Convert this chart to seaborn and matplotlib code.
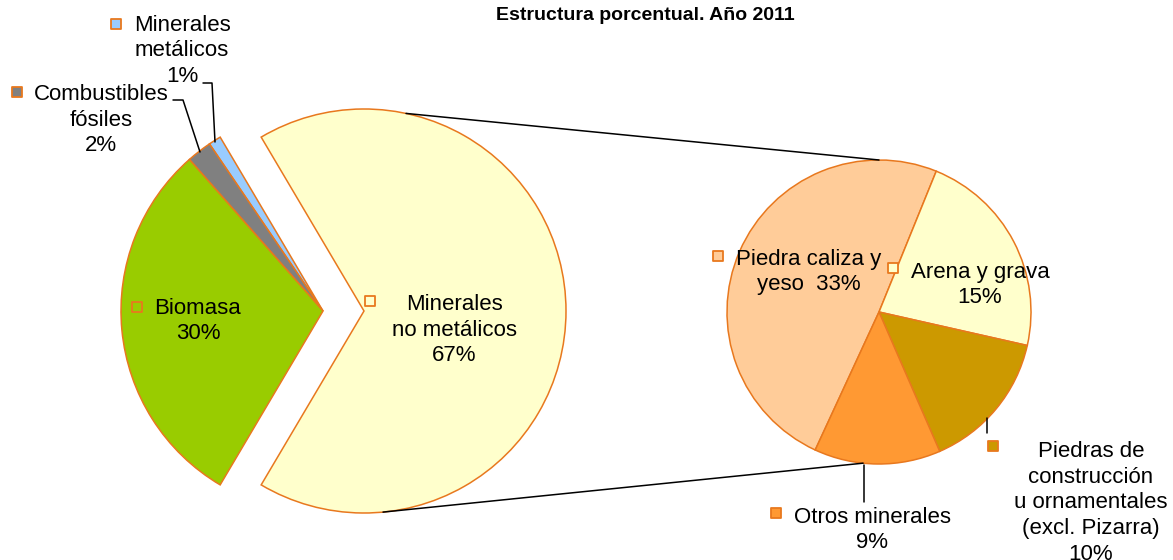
import matplotlib
matplotlib.use("Agg")
import matplotlib.pyplot as plt
import numpy as np
import seaborn as sns

# ---------------------------------------------------------------------------
# Data
# ---------------------------------------------------------------------------
TITLE = "Estructura porcentual. Año 2011"

main_labels = ["Minerales\nno metálicos", "Minerales\nmetálicos",
               "Combustibles\nfósiles", "Biomasa"]
main_values = [67, 1, 2, 30]

sub_labels = ["Piedra caliza y\nyeso ", "Arena y grava",
              "Piedras de\nconstrucción\nu ornamentales\n(excl. Pizarra)",
              "Otros minerales"]
sub_values = [33, 15, 10, 9]

# ---------------------------------------------------------------------------
# Style / layout (canvas coordinates = pixels, y up)
# ---------------------------------------------------------------------------
W, H = 1173, 560
EDGE = "#E8781E"
main_colors = ["#FFFFCC", "#99CCFF", "#808080", "#99CC00"]
sub_colors = ["#FFCC99", "#FFFFCC", "#CC9900", "#FF9933"]

MAIN_CENTER = (323, 249)
MAIN_RADIUS = 202
MAIN_EXPLODE = 41  # pixels, matplotlib uses absolute offset
SUB_CENTER = (879, 248)
SUB_RADIUS = 152

FONT = ["Liberation Sans", "DejaVu Sans"]
LABEL_SIZE = 16
LINESPACING = 1.3

# label text centre, key square centre
main_label_pos = [(454, 230), (182, 509), (101, 440), (198, 239)]
main_key_pos = [(370, 259), (116, 536), (17, 468), (137, 253)]
sub_label_pos = [(809, 288), (980, 275), (1091, 57), (872, 30)]
sub_key_pos = [(718, 304), (893, 292), (993, 114), (776, 47)]

sns.set_theme(style="white")
plt.rcParams["font.family"] = FONT

fig = plt.figure(figsize=(W / 100, H / 100), dpi=100)
ax = fig.add_axes([0, 0, 1, 1])

wedge_kw = dict(edgecolor=EDGE, linewidth=1.1)

total_main = sum(main_values)
start_main = -180 * main_values[0] / total_main
ax.pie(main_values, colors=main_colors, radius=MAIN_RADIUS,
       center=MAIN_CENTER, startangle=start_main,
       explode=[MAIN_EXPLODE, 0, 0, 0], wedgeprops=wedge_kw)

total_sub = sum(sub_values)
start_sub = 62.5 - 360 * sub_values[0] / total_sub + 360
ax.pie(sub_values, colors=sub_colors, radius=SUB_RADIUS,
       center=SUB_CENTER, startangle=start_sub, counterclock=False,
       wedgeprops=wedge_kw)


def on_circle(center, radius, deg):
    a = np.deg2rad(deg)
    return center[0] + radius * np.cos(a), center[1] + radius * np.sin(a)


# connector lines between the exploded slice and the secondary pie
exploded_center = (MAIN_CENTER[0] + MAIN_EXPLODE, MAIN_CENTER[1])
for a_main, a_sub in [(78, 90), (-84.6, -96)]:
    p0 = on_circle(exploded_center, MAIN_RADIUS, a_main)
    p1 = on_circle(SUB_CENTER, SUB_RADIUS, a_sub)
    ax.plot([p0[0], p1[0]], [p0[1], p1[1]], color="black", lw=1.1, zorder=1)

# leader lines
leaders = [
    [(203, 477), (212, 477), (215, 418)],
    [(173, 460), (183, 460), (200, 408)],
    [(987, 142), (987, 127)],
    [(864, 95), (864, 58)],
]
for pts in leaders:
    xs, ys = zip(*pts)
    ax.plot(xs, ys, color="black", lw=1.1, zorder=3)


def draw_label(text, pos, key, color):
    ax.text(pos[0], pos[1], text, ha="center", va="center",
            multialignment="center", fontsize=LABEL_SIZE,
            linespacing=LINESPACING, color="black", zorder=5)
    ax.scatter([key[0]], [key[1]], marker="s", s=62, color=color,
               edgecolors=EDGE, linewidths=1.3, zorder=5)


for lab, val, pos, key, col in zip(main_labels, main_values, main_label_pos,
                                   main_key_pos, main_colors):
    draw_label(f"{lab}\n{val}%", pos, key, col)

for lab, val, pos, key, col in zip(sub_labels, sub_values, sub_label_pos,
                                   sub_key_pos, sub_colors):
    sep = " " if lab.endswith(" ") else "\n"
    draw_label(f"{lab}{sep}{val}%", pos, key, col)

ax.text(645, 544, TITLE, ha="center", va="center", fontsize=14,
        fontweight="bold", color="black")

ax.set_xlim(0, W)
ax.set_ylim(0, H)
ax.set_aspect("equal")
ax.axis("off")

fig.savefig("out.png", dpi=100)
